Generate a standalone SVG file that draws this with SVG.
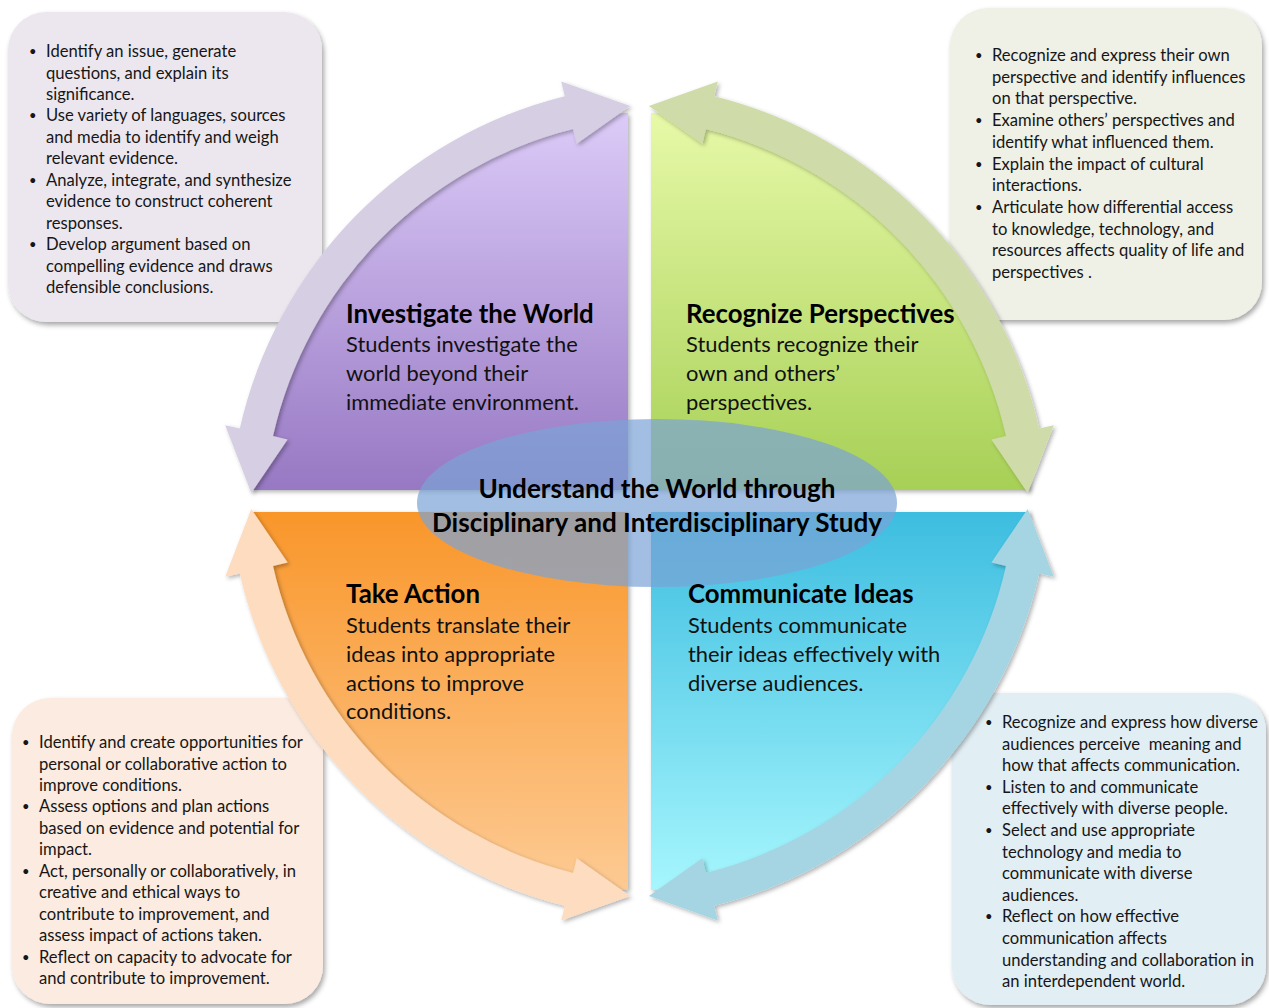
<svg xmlns="http://www.w3.org/2000/svg" width="1269" height="1008" viewBox="0 0 1269 1008">
<defs>
<style>
.box-text{font-family:Lato,"Open Sans",sans-serif;font-size:16.6px;fill:#161616}
.bullet{font-size:13px}
.title{font-family:Lato,"Open Sans",sans-serif;font-size:25.8px;font-weight:bold;fill:#000}
.body{font-family:Lato,"Open Sans",sans-serif;font-size:21.9px;fill:#111}
.center{font-family:Lato,"Open Sans",sans-serif;font-size:26.1px;font-weight:bold;fill:#000;text-anchor:middle}
</style>
<filter id="boxShadow" x="-10%" y="-10%" width="125%" height="125%">
<feDropShadow dx="2" dy="3" stdDeviation="2.5" flood-color="#000" flood-opacity="0.35"/>
</filter>
<filter id="softShadow" x="-10%" y="-10%" width="125%" height="125%">
<feDropShadow dx="2" dy="2" stdDeviation="2" flood-color="#000" flood-opacity="0.3"/>
</filter>
<linearGradient id="gPurple" x1="0" y1="0" x2="0" y2="1">
<stop offset="0" stop-color="#dccbf8"/><stop offset="1" stop-color="#9778c3"/>
</linearGradient>
<linearGradient id="gGreen" x1="0" y1="0" x2="0" y2="1">
<stop offset="0" stop-color="#e7f9a8"/><stop offset="1" stop-color="#a7d056"/>
</linearGradient>
<linearGradient id="gOrange" x1="0" y1="0" x2="0" y2="1">
<stop offset="0" stop-color="#f9962a"/><stop offset="1" stop-color="#fdca93"/>
</linearGradient>
<linearGradient id="gBlue" x1="0" y1="0" x2="0" y2="1">
<stop offset="0" stop-color="#3dbde0"/><stop offset="1" stop-color="#a6f6fd"/>
</linearGradient>
</defs>
<rect width="1269" height="1008" fill="#fff"/>

<g id="box-investigate">
<rect x="8" y="12" width="314" height="310" rx="38" fill="#ece7ef" filter="url(#boxShadow)"/>
</g>
<g id="box-perspectives">
<rect x="950" y="8" width="312" height="312" rx="38" fill="#eff0e6" filter="url(#boxShadow)"/>
</g>
<g id="box-action">
<rect x="12" y="698" width="311" height="306" rx="38" fill="#fcebe0" filter="url(#boxShadow)"/>
</g>
<g id="box-communicate">
<rect x="952" y="693" width="314" height="312" rx="38" fill="#e1eef4" filter="url(#boxShadow)"/>
</g>

<g id="quadrant-investigate">
<path d="M628 490 L628 113 A377 377 0 0 0 251 490 Z" fill="url(#gPurple)" filter="url(#softShadow)"/>
</g>
<g id="quadrant-perspectives">
<path d="M651 490 L651 113 A378 378 0 0 1 1029 490 Z" fill="url(#gGreen)" filter="url(#softShadow)"/>
</g>
<g id="quadrant-action">
<path d="M628 512 L250 512 A378 378 0 0 0 628 890 Z" fill="url(#gOrange)" filter="url(#softShadow)"/>
</g>
<g id="quadrant-communicate">
<path d="M651 512 L1029 512 A378 378 0 0 1 651 890 Z" fill="url(#gBlue)" filter="url(#softShadow)"/>
</g>

<g id="connectors">
<path d="M251.3 492.9 L225.2 425.3 L239.8 428.6 A443 443 0 0 1 564.8 96.2 L561.2 81.6 L630.1 106.1 L576.7 143.7 L573.1 129.1 A409 409 0 0 0 273.0 436.1 L287.6 439.4 Z" fill="#d6cee2" filter="url(#softShadow)"/>
<path d="M1027.7 492.9 L1053.8 425.3 L1039.2 428.6 A443 443 0 0 0 714.2 96.2 L717.8 81.6 L648.9 106.1 L702.3 143.7 L705.9 129.1 A409 409 0 0 1 1006.0 436.1 L991.4 439.4 Z" fill="#cfdcaa" filter="url(#softShadow)"/>
<path d="M251.3 509.1 L225.2 576.7 L239.8 573.4 A443 443 0 0 0 564.8 905.8 L561.2 920.4 L630.1 895.9 L576.7 858.3 L573.1 872.9 A409 409 0 0 1 273.0 565.9 L287.6 562.6 Z" fill="#fddcc0" filter="url(#softShadow)"/>
<path d="M1027.7 509.1 L1053.8 576.7 L1039.2 573.4 A443 443 0 0 1 714.2 905.8 L717.8 920.4 L648.9 895.9 L702.3 858.3 L705.9 872.9 A409 409 0 0 0 1006.0 565.9 L991.4 562.6 Z" fill="#a5d5e3" filter="url(#softShadow)"/>
</g>

<g id="center-node">
<ellipse cx="657" cy="503" rx="240" ry="84" fill="#7aa3d6" fill-opacity="0.7"/>
<text class="center" x="657" y="498">Understand the World through</text>
<text class="center" x="657" y="532">Disciplinary and Interdisciplinary Study</text>
</g>

<g id="label-investigate">
<text class="title" x="346" y="323">Investigate the World</text>
<text class="body" x="346" y="352">Students investigate the</text>
<text class="body" x="346" y="381">world beyond their</text>
<text class="body" x="346" y="410">immediate environment.</text>
</g>
<g id="label-perspectives">
<text class="title" x="686" y="323">Recognize Perspectives</text>
<text class="body" x="686" y="352">Students recognize their</text>
<text class="body" x="686" y="381">own and others’</text>
<text class="body" x="686" y="410">perspectives.</text>
</g>
<g id="label-action">
<text class="title" x="346" y="603">Take Action</text>
<text class="body" x="346" y="633">Students translate their</text>
<text class="body" x="346" y="662">ideas into appropriate</text>
<text class="body" x="346" y="691">actions to improve</text>
<text class="body" x="346" y="719">conditions.</text>
</g>
<g id="label-communicate">
<text class="title" x="688" y="603">Communicate Ideas</text>
<text class="body" x="688" y="633">Students communicate</text>
<text class="body" x="688" y="662">their ideas effectively with</text>
<text class="body" x="688" y="691">diverse audiences.</text>
</g>

<g id="text-investigate" class="box-text">
<text class="bullet" x="29" y="56">•</text><text x="46" y="57">Identify an issue, generate</text>
<text x="46" y="78.5">questions, and explain its</text>
<text x="46" y="100">significance.</text>
<text class="bullet" x="29" y="120.4">•</text><text x="46" y="121.4">Use variety of languages, sources</text>
<text x="46" y="142.8">and media to identify and weigh</text>
<text x="46" y="164.3">relevant evidence.</text>
<text class="bullet" x="29" y="184.7">•</text><text x="46" y="185.7">Analyze, integrate, and synthesize</text>
<text x="46" y="207.2">evidence to construct coherent</text>
<text x="46" y="228.6">responses.</text>
<text class="bullet" x="29" y="249">•</text><text x="46" y="250">Develop argument based on</text>
<text x="46" y="271.5">compelling evidence and draws</text>
<text x="46" y="293">defensible conclusions.</text>
</g>

<g id="text-perspectives" class="box-text">
<text class="bullet" x="975" y="60">•</text><text x="992" y="61">Recognize and express their own</text>
<text x="992" y="82.7">perspective and identify influences</text>
<text x="992" y="104.4">on that perspective.</text>
<text class="bullet" x="975" y="125.1">•</text><text x="992" y="126.1">Examine others’ perspectives and</text>
<text x="992" y="147.8">identify what influenced them.</text>
<text class="bullet" x="975" y="168.5">•</text><text x="992" y="169.5">Explain the impact of cultural</text>
<text x="992" y="191.2">interactions.</text>
<text class="bullet" x="975" y="211.9">•</text><text x="992" y="212.9">Articulate how differential access</text>
<text x="992" y="234.6">to knowledge, technology, and</text>
<text x="992" y="256.3">resources affects quality of life and</text>
<text x="992" y="278">perspectives .</text>
</g>

<g id="text-action" class="box-text">
<text class="bullet" x="22" y="747">•</text><text x="39" y="748">Identify and create opportunities for</text>
<text x="39" y="769.5">personal or collaborative action to</text>
<text x="39" y="791">improve conditions.</text>
<text class="bullet" x="22" y="811.4">•</text><text x="39" y="812.4">Assess options and plan actions</text>
<text x="39" y="833.8">based on evidence and potential for</text>
<text x="39" y="855.3">impact.</text>
<text class="bullet" x="22" y="875.7">•</text><text x="39" y="876.7">Act, personally or collaboratively, in</text>
<text x="39" y="898.2">creative and ethical ways to</text>
<text x="39" y="919.6">contribute to improvement, and</text>
<text x="39" y="941">assess impact of actions taken.</text>
<text class="bullet" x="22" y="961.5">•</text><text x="39" y="962.5">Reflect on capacity to advocate for</text>
<text x="39" y="984">and contribute to improvement.</text>
</g>

<g id="text-communicate" class="box-text">
<text class="bullet" x="985" y="727">•</text><text x="1002" y="728">Recognize and express how diverse</text>
<text x="1002" y="749.6" style="white-space:pre">audiences perceive  meaning and</text>
<text x="1002" y="771.2">how that affects communication.</text>
<text class="bullet" x="985" y="791.8">•</text><text x="1002" y="792.8">Listen to and communicate</text>
<text x="1002" y="814.4">effectively with diverse people.</text>
<text class="bullet" x="985" y="835">•</text><text x="1002" y="836">Select and use appropriate</text>
<text x="1002" y="857.6">technology and media to</text>
<text x="1002" y="879.2">communicate with diverse</text>
<text x="1002" y="900.8">audiences.</text>
<text class="bullet" x="985" y="921.4">•</text><text x="1002" y="922.4">Reflect on how effective</text>
<text x="1002" y="944">communication affects</text>
<text x="1002" y="965.6">understanding and collaboration in</text>
<text x="1002" y="987.2">an interdependent world.</text>
</g>
</svg>
